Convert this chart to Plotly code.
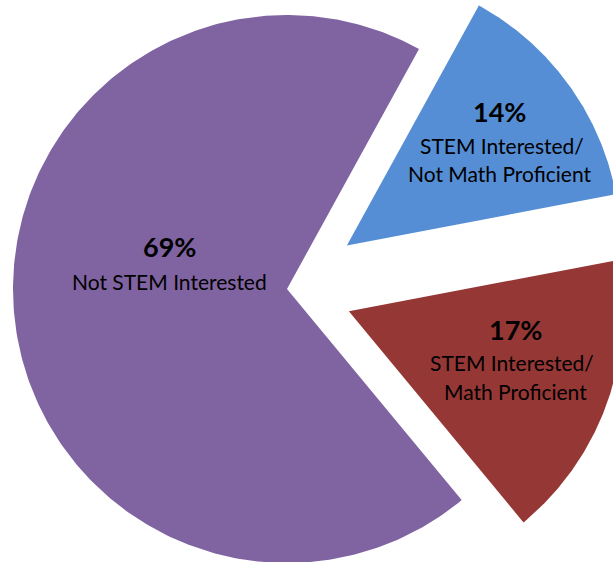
import numpy as np
import plotly.graph_objects as go

# ---- data ----
categories = ["STEM Interested/ Not Math Proficient",
              "STEM Interested/ Math Proficient",
              "Not STEM Interested"]
values = [14, 17, 69]
pct_labels = ["14%", "17%", "69%"]
label_lines = [["STEM Interested/", "Not Math Proficient"],
               ["STEM Interested/", "Math Proficient"],
               ["Not STEM Interested"]]

# ---- style / layout ----
colors = ["#558ED5", "#953735", "#8064A2"]
pulls = [0.27, 0.24, 0.0]
W, H = 613, 562
cx, cy, R = 287, 289, 274
start_angle = 28.8  # degrees clockwise from 12 o'clock

# label anchor points (pixel coords): percent line, then text lines
pct_pos = [(499, 111), (515, 329), (169, 246)]
line_pos = [[(502, 145), (499, 173)],
            [(512, 362), (515, 391)],
            [(169, 281)]]

fracs = np.array(values, dtype=float) / np.sum(values)
edges = start_angle + 360.0 * np.concatenate([[0.0], np.cumsum(fracs)])

fig = go.Figure()
for i, cat in enumerate(categories):
    a0, a1 = edges[i], edges[i + 1]
    mid = np.radians((a0 + a1) / 2)
    dx = pulls[i] * R * np.sin(mid)
    dy = -pulls[i] * R * np.cos(mid)
    th = np.radians(np.linspace(a0, a1, 300))
    xs = np.concatenate([[cx + dx], cx + dx + R * np.sin(th), [cx + dx]])
    ys = np.concatenate([[cy + dy], cy + dy - R * np.cos(th), [cy + dy]])
    fig.add_trace(go.Scatter(
        x=xs, y=ys, mode="lines", fill="toself",
        fillcolor=colors[i], line=dict(width=0, color=colors[i]),
        name=cat, hoverinfo="text", text=f"{cat}: {pct_labels[i]}",
        showlegend=False))

annotations = []
for i in range(len(categories)):
    px, py = pct_pos[i]
    annotations.append(dict(
        x=px, y=py, text=f"<b>{pct_labels[i]}</b>", showarrow=False,
        xanchor="center", yanchor="middle",
        font=dict(family="Lato", size=27, color="#000000")))
    for txt, (lx, ly) in zip(label_lines[i], line_pos[i]):
        annotations.append(dict(
            x=lx, y=ly, text=txt, showarrow=False,
            xanchor="center", yanchor="middle",
            font=dict(family="Lato", size=21, color="#000000")))

fig.update_layout(
    width=W, height=H,
    margin=dict(l=0, r=0, t=0, b=0),
    paper_bgcolor="white", plot_bgcolor="white",
    xaxis=dict(range=[0, W], visible=False, fixedrange=True),
    yaxis=dict(range=[H, 0], visible=False, fixedrange=True),
    annotations=annotations,
    showlegend=False,
)

fig.write_html(
    "out.html",
    config={"displayModeBar": False},
    post_script="document.body.style.margin='0';"
                "document.body.style.overflow='hidden';",
)
